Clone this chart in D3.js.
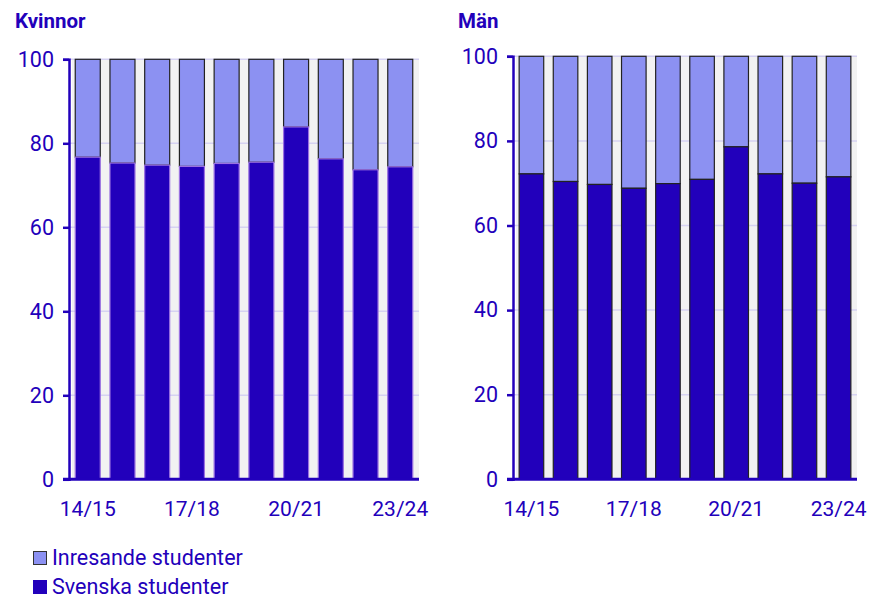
<!DOCTYPE html>
<html><head><meta charset="utf-8">
<script src="https://cdn.jsdelivr.net/npm/d3@7"></script>
<style>
body{margin:0;background:#fff;}
svg{display:block;font-family:Roboto,"Noto Sans",sans-serif;}
</style></head>
<body><svg id="c" width="873" height="598"></svg>
<script>
const categories = ["14/15","15/16","16/17","17/18","18/19","19/20","20/21","21/22","22/23","23/24"];
const tickLabels = ["14/15","17/18","20/21","23/24"];
const yTicks = [0,20,40,60,80,100];
const kvinnorSvenska = [76.7,75.3,74.8,74.5,75.2,75.5,83.9,76.3,73.7,74.4];
const manSvenska = [72.2,70.4,69.7,68.8,69.9,70.9,78.6,72.2,70.0,71.5];
const seriesNames = ["Inresande studenter","Svenska studenter"];
const colors = {inresande:"#8c91f2", svenska:"#2200bb"};
const textColor = "#2200bb";

const svg = d3.select("#c");

function panel(title, svenska, opt){
  const g = svg.append("g");
  const x = d3.scaleBand().domain(categories).range([opt.x0, opt.x1]).paddingInner(0.28).paddingOuter(0.18);
  const y = d3.scaleLinear().domain([0,100]).range([opt.yb, opt.yt]);
  g.append("rect").attr("x",opt.x0+3).attr("y",y(100)).attr("width",opt.x1-opt.x0-3).attr("height",y(0)-y(100)).attr("fill","#f2f2f2");
  g.selectAll(".grid").data(yTicks.filter(d=>d>0)).join("line")
    .attr("x1",opt.x0).attr("x2",opt.x1).attr("y1",d=>y(d)).attr("y2",d=>y(d))
    .attr("stroke","#d6d2f2").attr("stroke-width",1.5);
  const data = categories.map((c,i)=>({c, s:svenska[i]}));
  g.selectAll(".inr").data(data).join("rect")
    .attr("x",d=>x(d.c)).attr("width",x.bandwidth())
    .attr("y",y(100)).attr("height",d=>y(d.s)-y(100))
    .attr("fill",colors.inresande).attr("stroke","#222").attr("stroke-width",1.2);
  g.selectAll(".sv").data(data).join("rect")
    .attr("x",d=>x(d.c)).attr("width",x.bandwidth())
    .attr("y",d=>y(d.s)).attr("height",d=>y(0)-y(d.s))
    .attr("fill",colors.svenska).attr("stroke",opt.svStroke).attr("stroke-width",1.2);
  const ya = g.append("g").attr("transform",`translate(${opt.x0},0)`)
    .call(d3.axisLeft(y).tickValues(yTicks).tickSize(6).tickPadding(9));
  ya.select(".domain").attr("stroke",textColor).attr("stroke-width",2.5);
  ya.selectAll(".tick line").attr("stroke",textColor).attr("stroke-width",2.5);
  ya.selectAll(".tick text").attr("fill",textColor).attr("font-size",21.5).attr("font-family","Roboto");
  g.append("line").attr("x1",opt.x0-6).attr("x2",opt.x1).attr("y1",y(0)).attr("y2",y(0))
    .attr("stroke",textColor).attr("stroke-width",3);
  const xa = g.append("g").attr("transform",`translate(0,${y(0)})`)
    .call(d3.axisBottom(x).tickValues(tickLabels).tickSize(0).tickPadding(22));
  xa.select(".domain").remove();
  xa.selectAll(".tick text").attr("fill",textColor).attr("font-size",21).attr("font-family","Roboto");
  g.append("text").attr("x",opt.tx).attr("y",28).text(title)
    .attr("fill",textColor).attr("font-size",20.5).attr("font-weight","bold");
}

panel("Kvinnor", kvinnorSvenska, {x0:69, x1:419, yb:479.3, yt:59.3, tx:15, svStroke:"#9a70e0"});
panel("Män", manSvenska, {x0:513, x1:857, yb:479.3, yt:56.3, tx:458, svStroke:"#222"});

const leg = svg.append("g");
const legItems = [{n:seriesNames[0], c:colors.inresande, s:"#333"},{n:seriesNames[1], c:colors.svenska, s:colors.svenska}];
legItems.forEach((d,i)=>{
  const yy = 551 + i*29;
  leg.append("rect").attr("x",33.5).attr("y",yy+0.5).attr("width",13).attr("height",13).attr("fill",d.c).attr("stroke",d.s).attr("stroke-width",1);
  leg.append("text").attr("x",52).attr("y",yy+14).text(d.n).attr("fill",textColor).attr("font-size",21.5);
});
</script></body></html>
